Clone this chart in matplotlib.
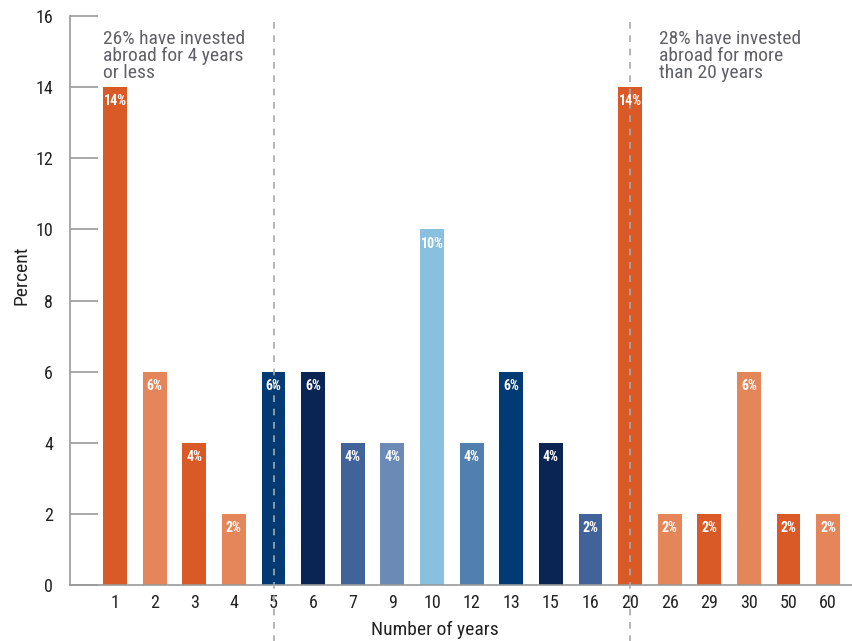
import matplotlib
matplotlib.use("Agg")
from matplotlib import pyplot as plt
from matplotlib import font_manager
import numpy as np

# prefer a narrow face if one is around
names = {f.name for f in font_manager.fontManager.ttflist}
narrow = [n for n in ["Roboto Condensed", "Liberation Sans Narrow", "Open Sans Condensed",
                      "DejaVu Sans Condensed"] if n in names]
plt.rcParams['font.family'] = narrow[:1] + ['DejaVu Sans']
plt.rcParams['font.stretch'] = 'condensed'

# years invested abroad and share of respondents
years = ["1", "2", "3", "4", "5", "6", "7", "9", "10", "12", "13", "15", "16",
         "20", "26", "29", "30", "50", "60"]
percent = [14, 6, 4, 2, 6, 6, 4, 4, 10, 4, 6, 4, 2, 14, 2, 2, 6, 2, 2]

dark_or = "#D95A27"
light_or = "#E4865A"
colors = [dark_or, light_or, dark_or, light_or,
          "#023B73", "#0A2454", "#42639A", "#6B8AB6", "#8AC0DF", "#507FB0",
          "#023B73", "#0A2454", "#42639A",
          dark_or, light_or, dark_or, light_or, dark_or, light_or]

grey = "#999999"
text_grey = "#5f6166"

fig = plt.figure(figsize=(8.52, 6.41), dpi=100)
ax = fig.add_axes([0.082, 0.087, 0.918, 0.888])

x = np.arange(len(years))
ax.bar(x, percent, width=0.6, color=colors, zorder=2)

for xi, v in zip(x, percent):
    ax.text(xi, v - 0.4, f"{v}%", ha="center", va="center", color="white",
            fontsize=10, fontweight="bold", zorder=4)

ax.set_xlim(-1.14, 18.6)
ax.set_ylim(0, 16)
ax.set_yticks(range(0, 17, 2))
ax.set_xticks(x)
ax.set_xticklabels(years)

for s in ["top", "right"]:
    ax.spines[s].set_visible(False)
for s in ["left", "bottom"]:
    ax.spines[s].set_color(grey)
    ax.spines[s].set_linewidth(1.2)

ax.tick_params(axis="y", direction="in", length=20, width=1.2, color=grey,
               labelsize=13, pad=12, labelcolor="#222222")
ax.tick_params(axis="x", length=0, labelsize=13, pad=6, labelcolor="#222222")

# dividers between the short- and long-horizon groups
for pos in [4, 13]:
    ax.plot([pos, pos], [-1.6, 16], ls=(0, (4, 4)), color="#aaaaaa", lw=1.2,
            clip_on=False, zorder=3)

ax.text(-0.3, 15.62, "26% have invested\nabroad for 4 years\nor less", ha="left",
        va="top", fontsize=14, color=text_grey, linespacing=0.95)
ax.text(13.72, 15.62, "28% have invested\nabroad for more\nthan 20 years", ha="left",
        va="top", fontsize=14, color=text_grey, linespacing=0.95)

fig.text(0.025, 0.571, "Percent", rotation=90, ha="center", va="center",
         fontsize=14, color="#222222")
fig.text(0.51, 0.018, "Number of years", ha="center", va="center",
         fontsize=14, color="#222222")

fig.savefig("out.png", dpi=100)
